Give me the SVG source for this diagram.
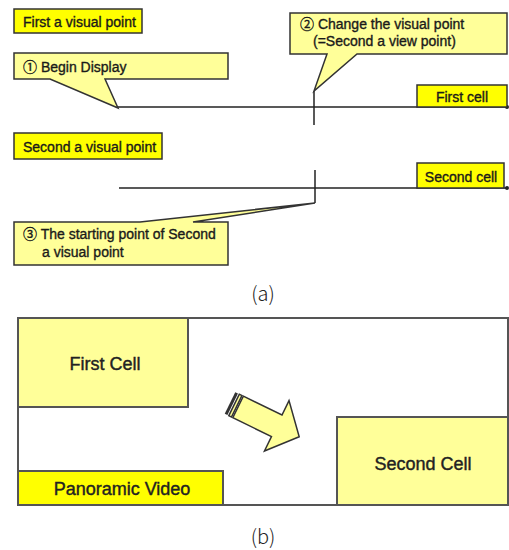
<svg xmlns="http://www.w3.org/2000/svg" width="509" height="550" viewBox="0 0 509 550">
  <style>
    .lbl { fill: #ffff00; stroke: #333; stroke-width: 1.5; }
    .note { fill: #ffff99; stroke: #333; stroke-width: 1.5; stroke-linejoin: miter; }
    .cell { fill: #ffff99; stroke: #555; stroke-width: 2; }
    .t { font-family: "Liberation Sans", Arial, "Noto Sans CJK KR", sans-serif; font-size: 14px; fill: #1a1a1a; stroke: #1a1a1a; stroke-width: 0.35; }
    .tb { font-family: "Liberation Sans", Arial, sans-serif; font-size: 18px; fill: #222; stroke: #222; stroke-width: 0.4; text-anchor: middle; }
    .cap { font-family: "Noto Sans CJK KR", "Noto Sans", sans-serif; font-weight: 300; font-size: 20px; fill: #222; text-anchor: middle; }
    .ln { stroke: #222; stroke-width: 1.5; fill: none; }
  </style>

  <rect width="509" height="550" fill="#fff"/>

  <!-- (a) timelines -->
  <g id="connectors">
    <line class="ln" x1="118" y1="107" x2="507" y2="107"/>
    <circle cx="507" cy="107" r="2" fill="#222"/>
    <line class="ln" x1="314" y1="91" x2="314" y2="125"/>
    <line class="ln" x1="119" y1="188" x2="507" y2="188"/>
    <circle cx="507" cy="188" r="2" fill="#222"/>
    <line class="ln" x1="315" y1="170" x2="315" y2="203"/>
  </g>

  <g id="first-visual-point">
    <rect class="lbl" x="14" y="9" width="128" height="24"/>
    <text class="t" x="23" y="27">First a visual point</text>
  </g>

  <g id="begin-display">
    <path class="note" d="M14,53 H228 V79 H105 L118,108 L50,79 H14 Z"/>
    <text class="t" x="23" y="72">① Begin Display</text>
  </g>

  <g id="change-visual-point">
    <path class="note" d="M290,13 H507 V54 H357 L314,91 L327,54 H290 Z"/>
    <text class="t" x="300" y="29">② Change the visual point</text>
    <text class="t" x="313" y="46">(=Second a view point)</text>
  </g>

  <g id="first-cell-a">
    <rect class="lbl" x="417" y="85" width="90" height="22"/>
    <text class="t" x="462" y="102" text-anchor="middle">First cell</text>
  </g>

  <g id="second-visual-point">
    <rect class="lbl" x="14" y="133" width="148" height="26"/>
    <text class="t" x="23" y="152">Second a visual point</text>
  </g>

  <g id="second-cell-a">
    <rect class="lbl" x="417" y="163" width="87" height="25"/>
    <text class="t" x="461" y="182" text-anchor="middle">Second cell</text>
  </g>

  <g id="starting-point">
    <path class="note" d="M14,222 H140 L315,203 L193,222 H228 V265 H14 Z"/>
    <text class="t" x="23" y="239">③ The starting point of Second</text>
    <text class="t" x="42" y="257">a visual point</text>
  </g>

  <text class="cap" x="263" y="301">(a)</text>

  <!-- (b) panoramic frame -->
  <g id="panorama">
    <rect x="18" y="318" width="490" height="187" fill="#fff" stroke="#555" stroke-width="2"/>
  </g>

  <g id="first-cell-b">
    <rect class="cell" x="18" y="318" width="170" height="89"/>
    <text class="tb" x="105" y="370">First Cell</text>
  </g>

  <g id="second-cell-b">
    <rect class="cell" x="337" y="417" width="171" height="88"/>
    <text class="tb" x="423" y="470">Second Cell</text>
  </g>

  <g id="panoramic-video">
    <rect x="18" y="471" width="205" height="34" fill="#ffff00" stroke="#555" stroke-width="2"/>
    <text class="tb" x="122" y="495">Panoramic Video</text>
  </g>

  <!-- striped arrow between the two cells -->
  <g id="move-arrow" transform="translate(230,403) rotate(26)">
    <rect x="0" y="-12" width="3" height="24" fill="#333"/>
    <rect x="4.5" y="-12" width="3" height="24" fill="#ffff99" stroke="#333" stroke-width="1.5"/>
    <path d="M9,-12 H52 V-28 L77,0 L52,28 V12 H9 Z" fill="#ffff99" stroke="#333" stroke-width="1.5" stroke-linejoin="miter"/>
  </g>

  <text class="cap" x="263" y="544">(b)</text>
</svg>
